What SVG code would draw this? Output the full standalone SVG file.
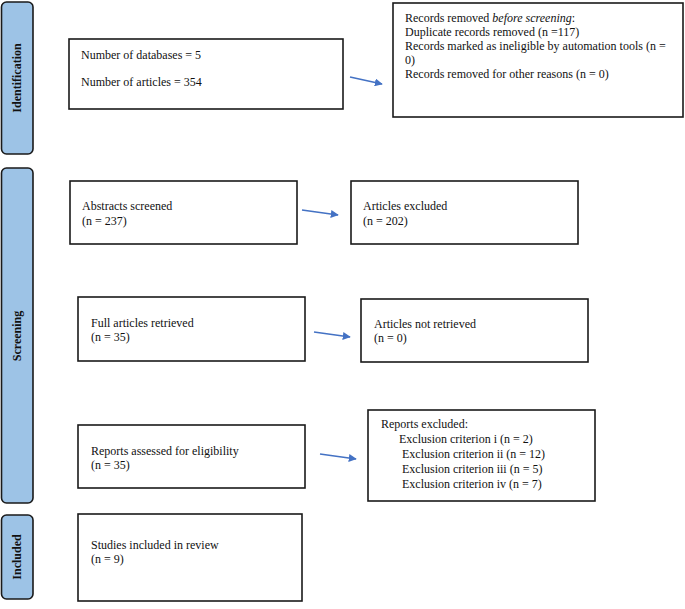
<svg xmlns="http://www.w3.org/2000/svg" width="685" height="609" viewBox="0 0 685 609">
<defs>
<style>
.bar{fill:#9dc3e6;stroke:#1a1a1a;stroke-width:1.6}
.box{fill:#fff;stroke:#1a1a1a;stroke-width:1.6}
.lbl{font-family:"Liberation Serif","Times New Roman",serif;font-size:12px;fill:#111}
.side{font-family:"Liberation Serif","Times New Roman",serif;font-size:12px;font-weight:bold;fill:#111;text-anchor:middle}
.arr{stroke:#4472c4;stroke-width:1.6;fill:none;marker-end:url(#ah)}
</style>
<marker id="ah" viewBox="0 0 10 10" refX="9" refY="5" markerWidth="5" markerHeight="5" orient="auto" markerUnits="strokeWidth">
<path d="M0,0 L10,5 L0,10 z" fill="#4472c4"/>
</marker>
</defs>
<rect width="685" height="609" fill="#fff"/>
<g id="bar-identification">
<rect class="bar" x="1.5" y="2" width="31.5" height="152" rx="5"/>
<text class="side" transform="translate(21,78) rotate(-90)">Identification</text>
</g>
<g id="bar-screening">
<rect class="bar" x="1.5" y="168" width="31.5" height="335" rx="5"/>
<text class="side" transform="translate(21,336) rotate(-90)">Screening</text>
</g>
<g id="bar-included">
<rect class="bar" x="1.5" y="515" width="31.5" height="84" rx="5"/>
<text class="side" transform="translate(21,557) rotate(-90)">Included</text>
</g>
<g id="n-identified">
<rect class="box" x="69" y="39" width="274" height="70"/>
<text class="lbl" x="81" y="59">Number of databases = 5</text>
<text class="lbl" x="81" y="86">Number of articles = 354</text>
</g>
<g id="n-removed">
<rect class="box" x="393" y="3" width="290" height="114"/>
<text class="lbl" x="405" y="22">Records removed <tspan font-style="italic">before screening</tspan>:</text>
<text class="lbl" x="405" y="36">Duplicate records removed (n =117)</text>
<text class="lbl" x="405" y="50">Records marked as ineligible by automation tools (n =</text>
<text class="lbl" x="405" y="64">0)</text>
<text class="lbl" x="405" y="78">Records removed for other reasons (n = 0)</text>
</g>
<g id="n-abstracts">
<rect class="box" x="70" y="181" width="227" height="63"/>
<text class="lbl" x="82" y="210">Abstracts screened</text>
<text class="lbl" x="82" y="225">(n = 237)</text>
</g>
<g id="n-excluded">
<rect class="box" x="351" y="181" width="227" height="63"/>
<text class="lbl" x="363" y="210">Articles excluded</text>
<text class="lbl" x="363" y="225">(n = 202)</text>
</g>
<g id="n-full">
<rect class="box" x="78" y="297" width="227" height="64"/>
<text class="lbl" x="91" y="327">Full articles retrieved</text>
<text class="lbl" x="91" y="341">(n = 35)</text>
</g>
<g id="n-notretrieved">
<rect class="box" x="361" y="299" width="227" height="63"/>
<text class="lbl" x="374" y="328">Articles not retrieved</text>
<text class="lbl" x="374" y="342">(n = 0)</text>
</g>
<g id="n-assessed">
<rect class="box" x="78" y="425" width="227" height="63"/>
<text class="lbl" x="91" y="455">Reports assessed for eligibility</text>
<text class="lbl" x="91" y="469">(n = 35)</text>
</g>
<g id="n-reportsexcluded">
<rect class="box" x="368" y="410" width="227" height="91"/>
<text class="lbl" x="381" y="428">Reports excluded:</text>
<text class="lbl" x="399" y="443">Exclusion criterion i (n = 2)</text>
<text class="lbl" x="402" y="458">Exclusion criterion ii (n = 12)</text>
<text class="lbl" x="402" y="473">Exclusion criterion iii (n = 5)</text>
<text class="lbl" x="402" y="488">Exclusion criterion iv (n = 7)</text>
</g>
<g id="n-included">
<rect class="box" x="78" y="514" width="224" height="87"/>
<text class="lbl" x="91" y="549">Studies included in review</text>
<text class="lbl" x="91" y="563">(n = 9)</text>
</g>
<g id="connectors">
<line class="arr" x1="350" y1="77" x2="382" y2="84"/>
<line class="arr" x1="302" y1="210" x2="338" y2="215"/>
<line class="arr" x1="314" y1="332" x2="350" y2="337"/>
<line class="arr" x1="320" y1="454" x2="356" y2="459"/>
</g>
</svg>
